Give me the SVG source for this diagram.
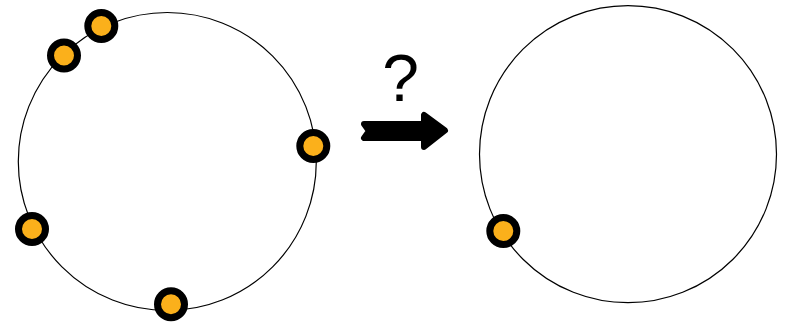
<svg xmlns="http://www.w3.org/2000/svg" width="785" height="325" viewBox="0 0 785 325">
<style>
.ring{fill:none;stroke:#000;stroke-width:1.2}
.dot{fill:#fbb01b;stroke:#000;stroke-width:7}
.q{font-family:"Liberation Sans",Arial,sans-serif;font-size:66px;fill:#000}
</style>
<rect width="785" height="325" fill="#fff"/>
<g id="left-ring"><circle class="ring" cx="167.3" cy="161.5" r="149"/></g>
<g id="right-ring"><circle class="ring" cx="628" cy="154.2" r="148.5"/></g>
<g id="connectors">
<polygon points="364,124 369,131 364,138 424,138 424,147 445,130.5 424,115 424,124" fill="#000" stroke="#000" stroke-width="6" stroke-linejoin="round"/>
</g>
<g id="label"><text class="q" x="400.5" y="101" text-anchor="middle">?</text></g>
<g id="dot1"><circle class="dot" cx="101.3" cy="26" r="13.5"/></g>
<g id="dot2"><circle class="dot" cx="64" cy="55.5" r="13.5"/></g>
<g id="dot3"><circle class="dot" cx="313.3" cy="146" r="13.5"/></g>
<g id="dot4"><circle class="dot" cx="32" cy="229" r="13.5"/></g>
<g id="dot5"><circle class="dot" cx="171" cy="304.3" r="13.5"/></g>
<g id="dot6"><circle class="dot" cx="503.3" cy="231" r="13.5"/></g>
</svg>
